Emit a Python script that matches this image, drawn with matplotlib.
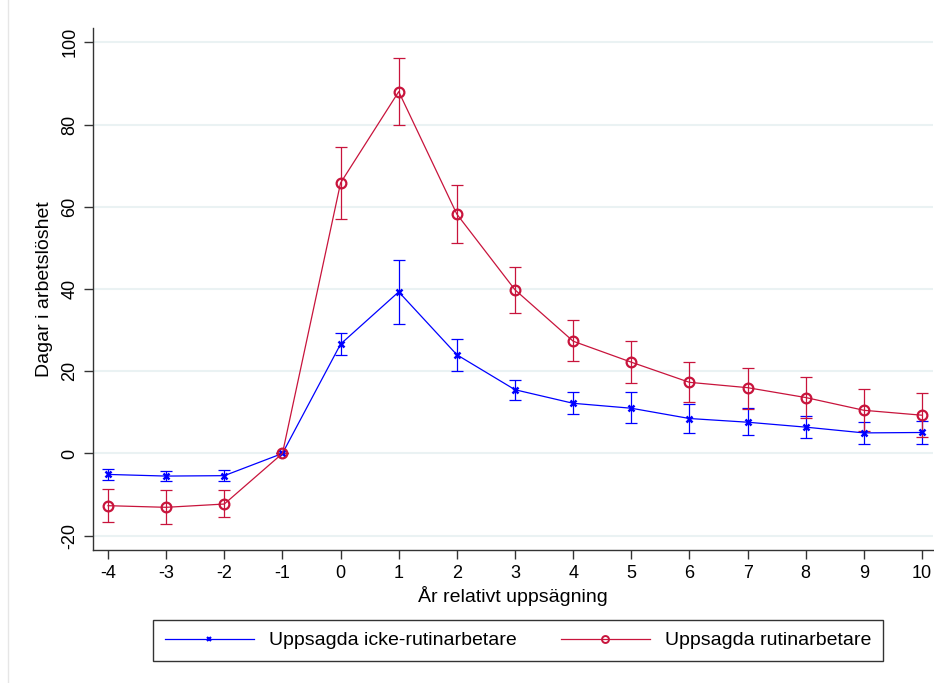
import matplotlib
matplotlib.use("Agg")
import matplotlib.pyplot as plt
from matplotlib.lines import Line2D

plt.rcParams['font.family'] = ['Liberation Sans', 'DejaVu Sans']

years = [-4, -3, -2, -1, 0, 1, 2, 3, 4, 5, 6, 7, 8, 9, 10]

icke = [-5.1, -5.5, -5.4, 0.0, 26.6, 39.3, 24.0, 15.5, 12.2, 11.0, 8.5, 7.6, 6.4, 5.0, 5.1]
icke_lo = [-6.4, -6.8, -6.7, 0.0, 23.9, 31.5, 20.0, 13.0, 9.5, 7.3, 5.0, 4.4, 3.7, 2.3, 2.4]
icke_hi = [-3.8, -4.2, -4.1, 0.0, 29.3, 47.0, 27.8, 17.8, 15.0, 15.0, 12.0, 11.0, 9.0, 7.6, 8.0]

rutin = [-12.7, -13.1, -12.3, 0.0, 65.8, 88.0, 58.2, 39.8, 27.3, 22.2, 17.3, 16.0, 13.6, 10.5, 9.3]
rutin_lo = [-16.6, -17.1, -15.5, 0.0, 57.0, 79.9, 51.1, 34.1, 22.4, 17.1, 12.4, 10.9, 8.7, 5.4, 4.0]
rutin_hi = [-8.6, -9.0, -8.9, 0.0, 74.6, 96.1, 65.2, 45.4, 32.4, 27.3, 22.2, 20.9, 18.6, 15.6, 14.6]

xticks = years
yticks = [-20, 0, 20, 40, 60, 80, 100]

blue = '#0000FF'
red = '#C8143C'

fig = plt.figure(figsize=(9.34, 6.83), dpi=100)
ax = fig.add_axes([93/934, 1 - 550/683, 1 - 93/934 - 0.001, (550 - 27.7)/683])

for y in yticks:
    ax.axhline(y, color='#EAF2F3', lw=1.5, zorder=0)

def err(vals, lo, hi):
    return [[v - l for v, l in zip(vals, lo)], [h - v for v, h in zip(vals, hi)]]

ax.errorbar(years, icke, yerr=err(icke, icke_lo, icke_hi), fmt='none',
            ecolor=blue, elinewidth=0.9, capsize=4.5, capthick=0.9, zorder=2)
ax.errorbar(years, rutin, yerr=err(rutin, rutin_lo, rutin_hi), fmt='none',
            ecolor=red, elinewidth=0.9, capsize=4.5, capthick=0.9, zorder=2)

ax.plot(years, icke, color=blue, lw=0.9, marker='x', markersize=4.5,
        markeredgewidth=1.8, label='Uppsagda icke-rutinarbetare', zorder=3)
ax.plot(years, rutin, color=red, lw=0.9, marker='o', markersize=7,
        markerfacecolor='none', markeredgewidth=1.6, label='Uppsagda rutinarbetare', zorder=3)

ax.set_xlim(-4.258, 10.19)
ax.set_ylim(-23.48, 103.55)
ax.set_xticks(xticks)
ax.set_xticklabels([str(t) for t in xticks])
ax.set_yticks(yticks)
ax.set_yticklabels([str(t) for t in yticks], rotation=90, va='center')

for s in ['top', 'right']:
    ax.spines[s].set_visible(False)
for s in ['left', 'bottom']:
    ax.spines[s].set_color('#333333')
    ax.spines[s].set_linewidth(1.0)

ax.tick_params(axis='both', labelsize=13, length=6.5, width=1.0, color='#333333', pad=4)
ax.set_xlabel('År relativt uppsägning', fontsize=14, labelpad=3)
ax.set_ylabel('Dagar i arbetslöshet', fontsize=14, labelpad=6)

handles, labels = ax.get_legend_handles_labels()
h1 = Line2D([], [], color=blue, lw=0.9, marker='x', markersize=3.5, markeredgewidth=1.5)
h2 = Line2D([], [], color=red, lw=0.9, marker='o', markersize=5, markerfacecolor='none', markeredgewidth=1.4)
leg = fig.legend([h1, h2], labels, ncol=2, loc='center',
                 bbox_to_anchor=(518/934, 1 - 640.5/683), fontsize=14,
                 frameon=True, fancybox=False, edgecolor='black',
                 handlelength=4.6, handletextpad=0.77, columnspacing=2.26,
                 borderpad=0.6, borderaxespad=0)
leg.get_frame().set_linewidth(1.0)

fig.add_artist(Line2D([8/934, 8/934], [0, 1], color='#E6E6E6', lw=1.0,
                      transform=fig.transFigure))

fig.savefig('out.png', dpi=100)
